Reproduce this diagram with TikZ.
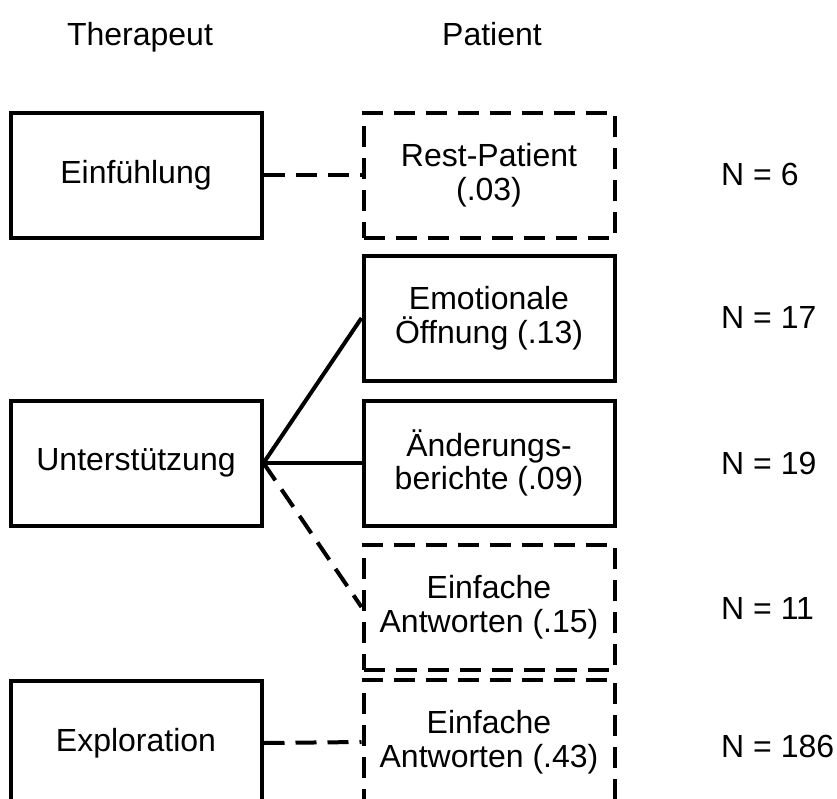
\documentclass[tikz,border=0pt]{standalone}
\usepackage{fontspec}
\setmainfont{Liberation Sans}
\usetikzlibrary{positioning}

\begin{document}
\begin{tikzpicture}[x=1pt, y=-1pt,
    txt/.style={font=\fontsize{32}{33.5}\selectfont, inner sep=0pt},
    box/.style={txt, draw, line width=4pt, minimum width=251pt, minimum height=125pt, align=center},
    dbox/.style={box, dash pattern=on 21pt off 11pt},
    link/.style={line width=4pt},
    dlink/.style={link, dash pattern=on 21pt off 11pt}]
    \useasboundingbox (0,0) rectangle (837,798);
    % headers
    \node[txt, anchor=base] (ther) at (140,45) {Therapeut};
    \node[txt, anchor=base] (pat) at (492,45) {Patient};
    % therapist side
    \node[box] (einf) at (136,175) {Einfühlung};
    \node[box] (unter) at (136,463) {Unterstützung};
    \node[box] (expl) at (136,743) {Exploration};
    % patient side
    \node[dbox] (rest) at (489,175) {Rest-Patient\\(.03)};
    \node[box] (emot) at (489,318) {Emotionale\\Öffnung (.13)};
    \node[box] (aend) at (489,463) {Änderungs-\\berichte (.09)};
    \node[dbox] (einfa) at (489,607) {Einfache\\Antworten (.15)};
    \node[dbox] (einfb) at (489,742) {Einfache\\Antworten (.43)};
    % counts
    \node[txt, anchor=base west] (n1) at (721,185) {N = 6};
    \node[txt, anchor=base west] (n2) at (721,328) {N = 17};
    \node[txt, anchor=base west] (n3) at (721,474) {N = 19};
    \node[txt, anchor=base west] (n4) at (721,619) {N = 11};
    \node[txt, anchor=base west] (n5) at (721,757) {N = 186};
    % links
    \draw[dlink] (einf.east) -- (rest.west);
    \draw[link] (unter.east) -- (emot.west);
    \draw[link] (unter.east) -- (aend.west);
    \draw[dlink] (unter.east) -- (einfa.west);
    \draw[dlink] (expl.east) -- (einfb.west);
\end{tikzpicture}
\end{document}
